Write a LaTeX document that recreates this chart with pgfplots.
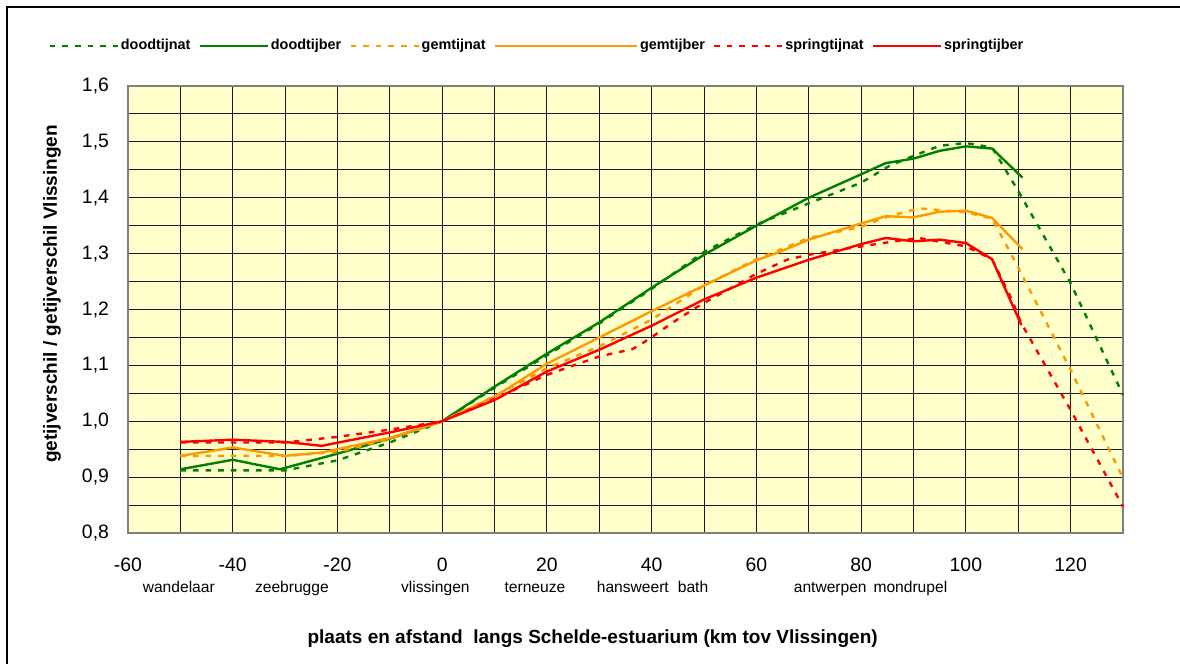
\documentclass[border=0pt]{standalone}
\usepackage{fontspec}
\setmainfont{Liberation Sans}
\usepackage{pgfplots}
\pgfplotsset{compat=1.18}

\definecolor{dgreen}{RGB}{0,128,0}
\definecolor{dorange}{RGB}{255,153,0}
\definecolor{dred}{RGB}{255,0,0}
\definecolor{plotbg}{RGB}{255,255,204}

\pgfplotsset{
  shortleg/.style={legend image code/.code={\draw[##1] (0pt,0pt) -- (34pt,0pt);}},
  longleg/.style={legend image code/.code={\draw[##1] (0pt,0pt) -- (71pt,0pt);}},
}

\begin{document}
\begin{tikzpicture}
\useasboundingbox (0,0) rectangle (590pt,332pt);
% outer frame (only top and left visible)
\draw[line width=0.8pt] (3.5pt,0) -- (3.5pt,328.5pt) -- (590pt,328.5pt);
\begin{axis}[
  at={(64pt,65.5pt)}, anchor=south west,
  scale only axis, width=497.5pt, height=223.5pt,
  xmin=-60, xmax=130, ymin=0.8, ymax=1.6,
  xtick={-60,-40,-20,0,20,40,60,80,100,120},
  ytick={0.8,0.9,1.0,1.1,1.2,1.3,1.4,1.5,1.6},
  minor x tick num=1, minor y tick num=1,
  grid=both,
  major grid style={black!90, line width=0.55pt},
  minor grid style={black!90, line width=0.55pt},
  major tick length=0pt, minor tick length=0pt,
  axis line style={gray, line width=1.2pt},
  axis background/.style={fill=plotbg},
  tick label style={font=\fontsize{9.7}{11}\selectfont},
  /pgf/number format/assume math mode=true,
  yticklabel style={/pgf/number format/.cd, use comma, fixed, fixed zerofill, precision=1, /tikz/.cd, xshift=-6pt},
  xticklabel style={yshift=-9pt},
  every axis y label/.style={at={(axis description cs:-0.0764,0.535)}, rotate=90, anchor=center,
    font=\bfseries\fontsize{9.5}{11}\selectfont},
  every axis x label/.style={at={(axis description cs:0.467,-0.236)}, anchor=center,
    font=\bfseries\fontsize{9.5}{11}\selectfont},
  ylabel={getijverschil / getijverschil Vlissingen},
  xlabel={plaats en afstand\ \ langs Schelde-estuarium (km tov Vlissingen)},
  clip=false,
  legend columns=6,
  shortleg,
  legend style={at={(axis description cs:0.411,1.0895)}, anchor=center, draw=none, fill=none,
    font=\bfseries\fontsize{7.2}{8}\selectfont, inner sep=0pt,
    nodes={inner sep=1pt},
    /tikz/every even column/.append style={column sep=3pt}},
]
\addplot[dgreen, line width=1.2pt, dash pattern=on 2.8pt off 3.5pt] coordinates {
  (-50,0.912) (-40,0.912) (-30,0.912) (-20,0.930) (-10,0.962) (0,1.000)
  (10,1.060) (20,1.118) (30,1.175) (40,1.237) (50,1.303) (60,1.352)
  (70,1.390) (80,1.427) (85.4,1.457) (90,1.475) (95,1.493) (100,1.498)
  (105,1.490) (110,1.412) (120,1.247) (130,1.047)};
\addlegendentry{doodtijnat}
\addplot[dgreen, line width=1.2pt] coordinates {
  (-50,0.914) (-40,0.931) (-31,0.914) (-20,0.942) (-10,0.969) (0,1.000)
  (10,1.062) (20,1.121) (30,1.177) (40,1.239) (50,1.298) (60,1.350)
  (70,1.400) (80,1.442) (84.7,1.462) (90,1.470) (95,1.484) (100,1.492)
  (105,1.488) (110.8,1.436)};
\addlegendentry{doodtijber}
\addplot[dorange, line width=1.2pt, dash pattern=on 2.8pt off 3.5pt] coordinates {
  (-50,0.938) (-40,0.938) (-30,0.938) (-20,0.945) (-10,0.968) (0,1.000)
  (10,1.045) (20,1.095) (30,1.134) (40,1.182) (50,1.243) (60,1.290)
  (70,1.328) (80,1.348) (85,1.366) (91,1.381) (100,1.374) (105,1.363)
  (110,1.275) (120,1.092) (130,0.898)};
\addlegendentry{gemtijnat}
\addplot[dorange, line width=1.2pt, longleg] coordinates {
  (-50,0.938) (-40,0.953) (-30,0.938) (-23,0.944) (-10,0.970) (0,1.000)
  (10,1.044) (20,1.103) (30,1.150) (40,1.197) (50,1.243) (60,1.288)
  (64.4,1.303) (70,1.325) (80,1.354) (84.7,1.367) (90,1.365) (95,1.375)
  (100,1.377) (105,1.364) (110.8,1.308)};
\addlegendentry{gemtijber}
\addplot[dred, line width=1.2pt, dash pattern=on 2.8pt off 3.5pt] coordinates {
  (-50,0.962) (-40,0.962) (-30,0.962) (-20,0.972) (-10,0.985) (0,1.000)
  (10,1.040) (20,1.083) (30,1.116) (36.3,1.129) (39.5,1.147) (43.9,1.176)
  (48.4,1.203) (51.2,1.218) (54.7,1.236) (59.8,1.263) (65.8,1.289)
  (70,1.298) (80,1.313) (85,1.320) (91,1.328) (100,1.313) (105,1.290)
  (108.8,1.217) (110.6,1.175) (120,1.020) (130,0.847)};
\addlegendentry{springtijnat}
\addplot[dred, line width=1.2pt] coordinates {
  (-50,0.963) (-40,0.967) (-30,0.963) (-23,0.956) (-10,0.980) (0,1.000)
  (10,1.038) (20,1.089) (30,1.128) (40,1.171) (50,1.218) (60,1.257)
  (64.4,1.271) (70,1.289) (80,1.317) (84.7,1.328) (90,1.322) (95,1.325)
  (100,1.319) (105,1.290) (110.6,1.172)};
\addlegendentry{springtijber}
% station names under the distance axis
\begin{scope}[every node/.style={font=\fontsize{7.8}{9}\selectfont, anchor=base, yshift=-30pt}]
\node at (axis cs:-50.3,0.8) {wandelaar};
\node at (axis cs:-28.7,0.8) {zeebrugge};
\node at (axis cs:-1.3,0.8) {vlissingen};
\node at (axis cs:17.7,0.8) {terneuze};
\node at (axis cs:36.4,0.8) {hansweert};
\node at (axis cs:47.9,0.8) {bath};
\node at (axis cs:74.1,0.8) {antwerpen};
\node at (axis cs:89.4,0.8) {mondrupel};
\end{scope}
\end{axis}
\end{tikzpicture}
\end{document}
